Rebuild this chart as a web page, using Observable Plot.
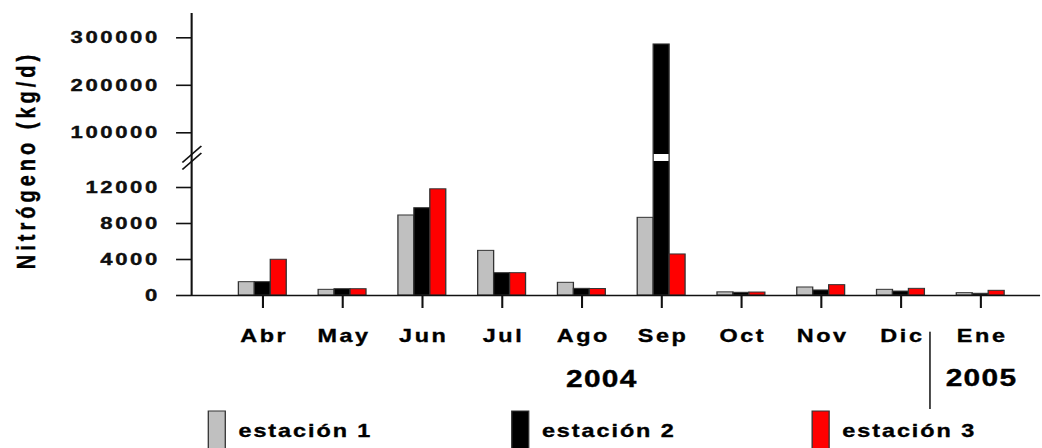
<!DOCTYPE html>
<html>
<head>
<meta charset="utf-8">
<script src="https://cdn.jsdelivr.net/npm/d3@7"></script>
<script src="https://cdn.jsdelivr.net/npm/@observablehq/plot@0.6"></script>
<style>
  html, body { margin: 0; padding: 0; background: #fff; }
  #chart { width: 1042px; height: 448px; overflow: hidden; }
  #chart svg text { stroke: #000; stroke-width: 0.35px; }
</style>
</head>
<body>
<div id="chart"></div>
<script>
// ---- data ----
const months = ["Abr", "May", "Jun", "Jul", "Ago", "Sep", "Oct", "Nov", "Dic", "Ene"];
const estacion1 = [1480, 630, 8890, 4960, 1410, 8630, 350, 890, 630, 260];
const estacion2 = [1480, 700, 9700, 2480, 740, 286000, 300, 560, 440, 190];
const estacion3 = [3970, 700, 11800, 2480, 720, 4560, 330, 1150, 740, 520];
const stations = ["estación 1", "estación 2", "estación 3"];
const colors = ["#c0c0c0", "#000000", "#ff0000"];
const yTickValues = [0, 4000, 8000, 12000, 100000, 200000, 300000];
const years = [{year: "2004", first: 0, last: 8}, {year: "2005", first: 9, last: 9}];
const yTitle = "Nitrógeno (kg/d)";

// ---- broken y axis: lower segment 0..LO, upper segment HI..top ----
const LO = 14890, HI = 54300;
function brk(v) {
  if (v <= LO) return v * 0.009;
  if (v >= HI) return 162.7 + (v - 100000) * 0.000475;
  return 134 + (v - LO) / (HI - LO) * 7;
}
const tickLabel = new Map(yTickValues.map(v => [brk(v), String(v)]));

const series = [estacion1, estacion2, estacion3];
const rows = months.flatMap((m, i) => series.map((vals, s) => ({i, s, station: stations[s], value: vals[i]})));

const barW = 0.2;
const x1 = d => d.i - 1.5 * barW + d.s * barW;
const x2 = d => d.i - 0.5 * barW + d.s * barW;

const W = 802;
const xDomain = [-0.894, 9.75];
const legendX = [-0.677, 3.127, 6.893];

const svg = Plot.plot({
  width: W, height: 448,
  marginLeft: 147, marginRight: 1.5, marginTop: 13, marginBottom: 153,
  x: {type: "linear", domain: xDomain},
  y: {domain: [0, 282]},
  color: {domain: stations, range: colors},
  style: {fontFamily: "'Liberation Sans', Arial, sans-serif", fontWeight: "bold", letterSpacing: "2px", color: "#000", background: "#fff", overflow: "hidden"},
  marks: [
    // bars
    Plot.rectY(rows, {x1, x2, y1: 0, y2: d => brk(d.value), fill: "station", stroke: "#333", strokeWidth: 1}),
    // white gap where a bar crosses the axis break
    Plot.rectY(rows.filter(d => d.value > HI), {x1: d => x1(d) + 0.008, x2: d => x2(d) - 0.008, y1: brk(LO), y2: brk(HI), fill: "#fff"}),
    // axes lines
    Plot.ruleX([xDomain[0]], {stroke: "#111", strokeWidth: 1.6}),
    Plot.ruleY([0], {stroke: "#111", strokeWidth: 1.6}),
    // break marks on y axis
    Plot.link([0, 7], {x1: -1.01, x2: -0.772, y1: d => 126 + d, y2: d => 142.5 + d, stroke: "#111", strokeWidth: 1.3}),
    // y axis ticks + labels
    Plot.axisY(yTickValues.map(brk), {tickSize: 11.5, tickPadding: 13, tickFormat: t => tickLabel.get(t), fontSize: 17, label: null, color: "#111", strokeWidth: 1.6, className: "yticks"}),
    // x axis ticks
    Plot.axisX(d3.range(months.length), {tickSize: 13, tickFormat: () => "", label: null, color: "#111", strokeWidth: 1.6}),
    // month labels
    Plot.text(months, {x: (d, i) => i, frameAnchor: "bottom", dy: 46, dx: 1, lineAnchor: "bottom", fontSize: 18, fill: "#000"}),
    // year labels
    Plot.text(years.slice(0, 1), {x: d => (d.first + d.last) / 2 + 0.24, text: "year", frameAnchor: "bottom", dy: 91.5, dx: 0.5, lineAnchor: "bottom", fontSize: 23, fill: "#000", className: "years"}),
    Plot.text(years.slice(1), {x: d => (d.first + d.last) / 2, text: "year", frameAnchor: "bottom", dy: 90, dx: 0.5, lineAnchor: "bottom", fontSize: 23, fill: "#000", className: "years"}),
    // year separator
    Plot.ruleX([years[0].last + 0.5], {y1: -36.7, y2: -114, dx: -8.5, stroke: "#444", strokeWidth: 1.5}),
    // legend
    Plot.rect(stations, {x1: (d, i) => legendX[i], x2: (d, i) => legendX[i] + 0.213, y1: -116, y2: -175, fill: d => d, stroke: "#333", strokeWidth: 1}),
    Plot.text(stations, {x: (d, i) => legendX[i] + 0.37, y: -141, text: d => d, textAnchor: "start", lineAnchor: "bottom", fontSize: 18, fill: "#000", className: "legtext"}),
    // y title
    Plot.text([yTitle], {frameAnchor: "left", textAnchor: "middle", dx: -127, dy: 5.5, rotate: -90, fontSize: 20, fill: "#000", className: "ytitle"})
  ]
});

svg.setAttribute("width", 1042);
svg.setAttribute("height", 448);
svg.setAttribute("preserveAspectRatio", "none");
svg.style.width = "1042px";
svg.style.height = "448px";
svg.style.maxWidth = "none";
const setLS = (sel, v) => svg.querySelectorAll(sel).forEach(e => e.style.letterSpacing = v);
setLS(".ytitle", "4px");
setLS(".years", "1px");
setLS(".legtext", "1.5px");
document.getElementById("chart").appendChild(svg);
</script>
</body>
</html>
